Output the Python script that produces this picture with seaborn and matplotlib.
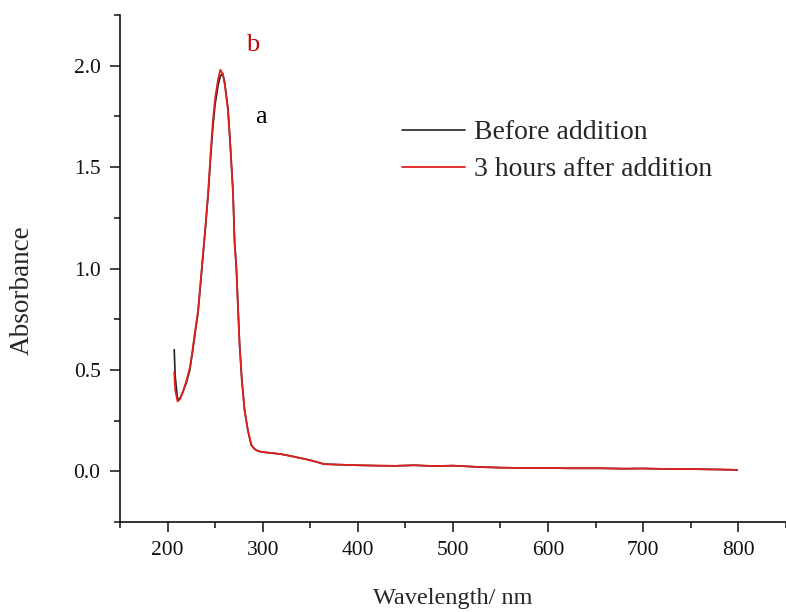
import numpy as np
import pandas as pd
import matplotlib
matplotlib.use("Agg")
import matplotlib.pyplot as plt
import seaborn as sns
from matplotlib.ticker import MultipleLocator, FormatStrFormatter

# wavelength (nm) and absorbance
wavelength = [207, 208, 210.5, 213, 216, 220, 223.4, 226, 228.6, 232, 235, 237.4,
              240, 242.6, 245, 247.7, 250, 253, 255.5, 258, 260, 263.5, 266, 268.8,
              270.5, 272.3, 275.7, 278, 281, 284.5, 288, 291.5, 295, 300, 310, 319,
              330, 340, 350, 364.7, 380, 400, 420, 440, 459, 480, 500, 529, 552,
              580, 600, 620, 657, 680, 700, 720, 750, 780, 799]

after_3h = [0.49, 0.40, 0.345, 0.355, 0.39, 0.45, 0.51, 0.59, 0.68, 0.79, 0.95, 1.08,
            1.22, 1.37, 1.55, 1.73, 1.84, 1.93, 1.98, 1.96, 1.91, 1.78, 1.60, 1.37,
            1.12, 1.00, 0.62, 0.45, 0.30, 0.20, 0.13, 0.11, 0.10, 0.095, 0.09, 0.085,
            0.075, 0.065, 0.055, 0.035, 0.033, 0.030, 0.028, 0.027, 0.030, 0.026,
            0.028, 0.021, 0.018, 0.016, 0.017, 0.015, 0.015, 0.013, 0.014, 0.012,
            0.011, 0.009, 0.007]

before = [0.60, 0.47, 0.355, 0.36, 0.39, 0.44, 0.50, 0.58, 0.67, 0.78, 0.94, 1.07,
          1.21, 1.36, 1.53, 1.70, 1.81, 1.90, 1.95, 1.96, 1.92, 1.79, 1.61, 1.38,
          1.13, 1.01, 0.63, 0.46, 0.30, 0.20, 0.13, 0.11, 0.10, 0.095, 0.09, 0.085,
          0.075, 0.065, 0.055, 0.036, 0.033, 0.030, 0.028, 0.027, 0.030, 0.026,
          0.028, 0.021, 0.018, 0.016, 0.017, 0.015, 0.015, 0.013, 0.014, 0.012,
          0.011, 0.009, 0.007]

labels = ["Before addition", "3 hours after addition"]

sns.set_style("ticks")
plt.rcParams["font.family"] = ["Liberation Serif", "DejaVu Serif"]

fig = plt.figure(figsize=(7.86, 6.12), dpi=100)
ax = fig.add_axes([0.1527, 0.147, 0.847, 0.8285])

sns.lineplot(x=wavelength, y=before, ax=ax, color="#222222", lw=1.2,
             sort=False, estimator=None, label=labels[0])
sns.lineplot(x=wavelength, y=after_3h, ax=ax, color="#e02020", lw=1.3,
             sort=False, estimator=None, label=labels[1])

ax.set_xlim(150, 850)
ax.set_ylim(-0.25, 2.25)
ax.xaxis.set_major_locator(MultipleLocator(100))
ax.xaxis.set_minor_locator(MultipleLocator(50))
ax.yaxis.set_major_locator(MultipleLocator(0.5))
ax.yaxis.set_minor_locator(MultipleLocator(0.25))
ax.yaxis.set_major_formatter(FormatStrFormatter("%.1f"))
ax.tick_params(which="major", direction="out", length=7, width=1.1,
               labelsize=15.5, color="#111111", labelcolor="#111111", pad=7)
ax.tick_params(which="minor", direction="out", length=4.5, width=1.1, color="#111111")
for s in ["left", "bottom"]:
    ax.spines[s].set_linewidth(1.2)
    ax.spines[s].set_color("#111111")
sns.despine(ax=ax)

ax.set_xlabel("Wavelength/ nm", fontsize=17.5, labelpad=20)
ax.set_ylabel("Absorbance", fontsize=19.5)
ax.yaxis.set_label_coords(-0.128, 0.4576)

ax.text(298, 1.745, "a", fontsize=19, color="black", ha="center", va="center")
ax.text(289, 2.10, "b", fontsize=19, color="#c00000", ha="center", va="center")

leg = ax.legend(loc="upper left", bbox_to_anchor=(0.5115, 0.804),
                bbox_transform=fig.transFigure, frameon=False, fontsize=20,
                handlelength=2.27, handletextpad=0.33, labelspacing=0.41,
                borderpad=0, borderaxespad=0)

fig.savefig("out.png", dpi=100)
